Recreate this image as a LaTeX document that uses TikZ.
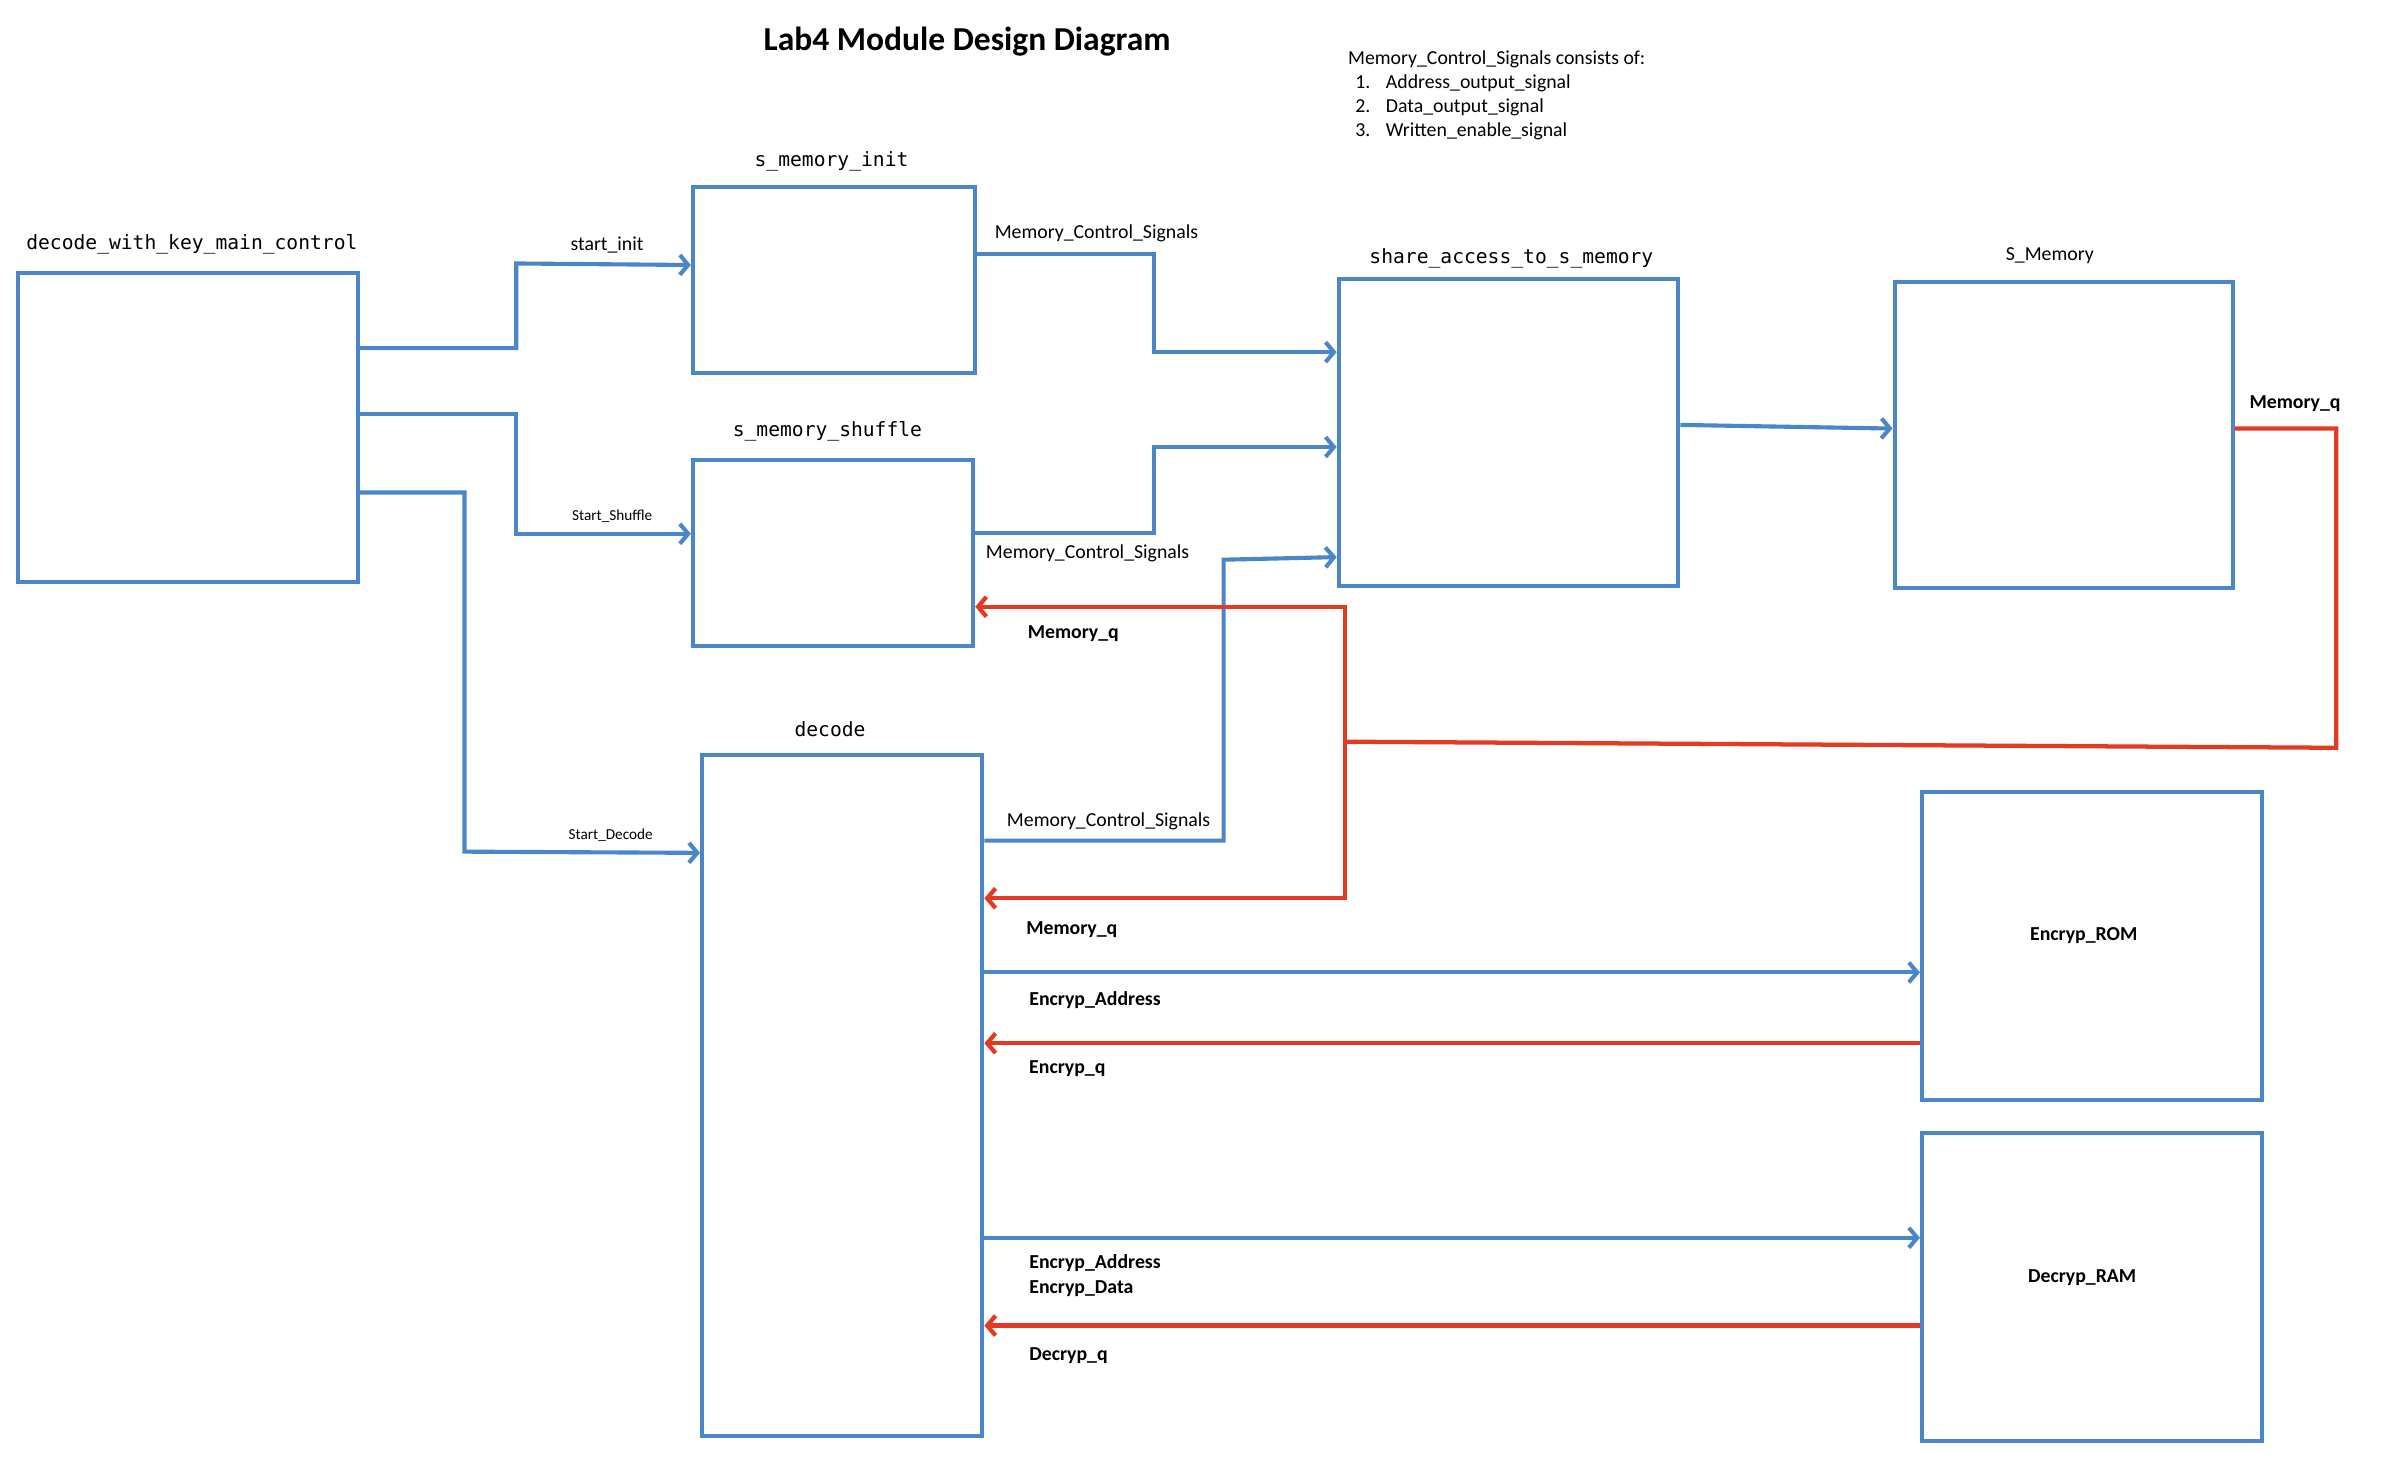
\documentclass[tikz,border=0pt]{standalone}
\usepackage{fontspec}
\setmainfont{Carlito}
\newfontfamily\modfont{DejaVu Sans Mono}
\usepackage{tikz}
\usetikzlibrary{arrows.meta}

\definecolor{wireblue}{HTML}{4A86C8}
\definecolor{wirered}{HTML}{E23B22}

\begin{document}
\begin{tikzpicture}[x=1pt, y=-1pt]
\tikzset{
    box/.style={draw=wireblue, line width=2.7pt, inner sep=0pt},
    wire/.style={draw=wireblue, line width=2.7pt},
    qwire/.style={draw=wirered, line width=2.8pt},
    arr/.style={-{Straight Barb[length=5.5pt,width=13pt]}},
    modname/.style={font=\modfont\fontsize{12.9}{15}\selectfont, anchor=base, inner sep=0pt},
    sig/.style={font=\fontsize{13}{15}\selectfont, anchor=base west, inner sep=0pt},
    sigb/.style={font=\bfseries\fontsize{13}{15}\selectfont, anchor=base west, inner sep=0pt},
}
    \useasboundingbox (0,0) rectangle (1568,964);

    % title and note
    \node[font=\bfseries\fontsize{22}{26}\selectfont, anchor=base] (heading) at (635,33.4) {Lab4 Module Design Diagram};
    \node[sig] (note) at (885,42.2) {Memory\_Control\_Signals consists of:};
    \node[sig] (note1) at (889.8,57.8) {\makebox[20pt][l]{1.}Address\_output\_signal};
    \node[sig] (note2) at (889.8,74) {\makebox[20pt][l]{2.}Data\_output\_signal};
    \node[sig] (note3) at (889.8,89.7) {\makebox[20pt][l]{3.}Written\_enable\_signal};

    % modules
    \node[box, minimum width=223, minimum height=203] (main) at (123.5,280.5) {};
    \node[box, minimum width=185, minimum height=122] (init) at (547.5,184) {};
    \node[box, minimum width=184, minimum height=122] (shuffle) at (547,363) {};
    \node[box, minimum width=184, minimum height=447] (decode) at (553,719.5) {};
    \node[box, minimum width=223, minimum height=202] (share) at (990.5,284) {};
    \node[box, minimum width=222, minimum height=201] (smem) at (1355,285.5) {};
    \node[box, minimum width=223, minimum height=202] (rom) at (1373.5,621) {};
    \node[box, minimum width=223, minimum height=202] (ram) at (1373.5,845) {};

    \node[modname] (tmain) at (126,163.5) {decode\_with\_key\_main\_control};
    \node[modname] (tinit) at (546,109.3) {s\_memory\_init};
    \node[modname] (tshuffle) at (543.3,286.4) {s\_memory\_shuffle};
    \node[modname] (tdecode) at (545,483.3) {decode};
    \node[modname] (tshare) at (992.4,172.9) {share\_access\_to\_s\_memory};
    \node[sig, anchor=base] (tsmem) at (1345.9,170.9) {S\_Memory};
    \node[sigb, anchor=base] (trom) at (1368.2,617.6) {Encryp\_ROM};
    \node[sigb, anchor=base] (tram) at (1367.2,841.8) {Decryp\_RAM};

    % start signals
    \draw[wire,arr] (main.east |- 0,228.6) -| (339,173) -- (init.west |- 0,174);
    \draw[wire,arr] (main.east |- 0,271.6) -| (339,350.5) -- (shuffle.west |- 0,350.5);
    \draw[wire,arr] (main.east |- 0,323.4) -| (305,559.2) -- (decode.west |- 0,560);
    \node[sig, anchor=base] (linit) at (398.6,164.6) {start\_init};
    \node[sig, anchor=base, font=\fontsize{10}{12}\selectfont] (lshuffle) at (402,341.8) {Start\_Shuffle};
    \node[sig, anchor=base, font=\fontsize{10}{12}\selectfont] (ldecode) at (401,551) {Start\_Decode};

    % memory control signals
    \draw[wire,arr] (init.east |- 0,167) -| (757.6,231.2) -- (share.west |- 0,231.2);
    \draw[wire,arr] (shuffle.east |- 0,349.8) -| (757.6,293.5) -- (share.west |- 0,293.5);
    \draw[wire,arr] (decode.east |- 0,552) -| (803.4,367.5) -- (share.west |- 0,365.8);
    \draw[wire,arr] (share.east |- 0,279) -- (smem.west |- 0,281.4);
    \node[sig] (mcs1) at (653,156.3) {Memory\_Control\_Signals};
    \node[sig] (mcs2) at (647.2,366.6) {Memory\_Control\_Signals};
    \node[sig] (mcs3) at (661,542.8) {Memory\_Control\_Signals};

    % memory_q back to shuffle and decode
    \coordinate (qsplit) at (883,487);
    \draw[qwire] (smem.east |- 0,281.4) -| (1534,491) -- (qsplit);
    \draw[qwire,arr] (qsplit) |- (shuffle.east |- 0,398.4);
    \draw[qwire,arr] (qsplit) |- (decode.east |- 0,589.8);
    \node[sigb] (mq0) at (1476.9,268.4) {Memory\_q};
    \node[sigb] (mq1) at (674.7,419.1) {Memory\_q};
    \node[sigb] (mq2) at (673.7,613.9) {Memory\_q};

    % rom and ram
    \draw[wire,arr] (decode.east |- 0,638.5) -- (rom.west |- 0,638.5);
    \draw[qwire,arr] (rom.west |- 0,685) -- (decode.east |- 0,685);
    \draw[wire,arr] (decode.east |- 0,812.7) -- (ram.west |- 0,812.7);
    \draw[qwire,arr] (ram.west |- 0,870.4) -- (decode.east |- 0,870.4);
    \node[sigb] (ea1) at (675.7,660.4) {Encryp\_Address};
    \node[sigb] (eq) at (675.6,704.6) {Encryp\_q};
    \node[sigb] (ea2) at (675.7,833.1) {Encryp\_Address};
    \node[sigb] (ed) at (675.7,849.5) {Encryp\_Data};
    \node[sigb] (dq) at (675.7,893) {Decryp\_q};
\end{tikzpicture}
\end{document}
